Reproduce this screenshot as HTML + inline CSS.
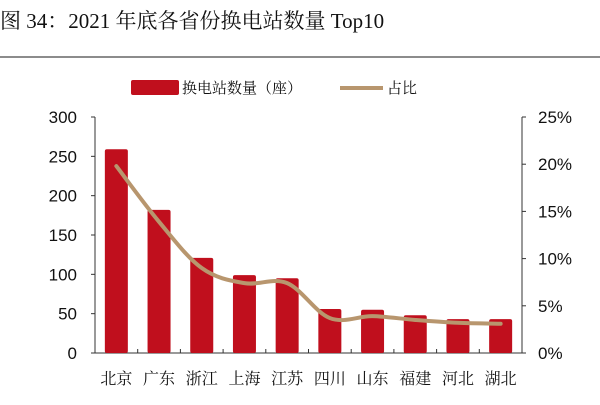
<!DOCTYPE html>
<html><head><meta charset="utf-8"><style>
body{margin:0;background:#fff;width:600px;height:400px;overflow:hidden;font-family:"Liberation Sans","Noto Sans CJK SC",sans-serif}
</style></head><body>
<svg id="c" width="600" height="400">
<text x="0" y="28" font-family="Liberation Serif, Noto Serif CJK SC, serif" font-size="21" fill="#111">图 34：2021 年底各省份换电站数量 Top10</text>
<line x1="0" y1="57" x2="600" y2="57" stroke="#666" stroke-width="1.5"/>
<g>
<rect x="131" y="80" width="48" height="15" rx="2" fill="#c00f1d"/>
<text x="182" y="93" font-size="15" font-family="Noto Serif CJK SC, serif" fill="#111">换电站数量（座）</text>
<line x1="340" y1="88" x2="383" y2="88" stroke="#b8966e" stroke-width="4"/>
<text x="387" y="93" font-size="15" font-family="Noto Serif CJK SC, serif" fill="#111">占比</text>
</g>
<g id="ax"></g><g id="bars"></g><g id="ln"></g>
</svg>
<script>
const categories=["北京","广东","浙江","上海","江苏","四川","山东","福建","河北","湖北"];
const counts=[259,182,121,99,95,56,55,48,43,43];
const shares=[19.8,13.9,9.0,7.4,7.4,3.7,3.9,3.5,3.2,3.1];
const leftTicks=[0,50,100,150,200,250,300];
const rightTicks=[0,5,10,15,20,25];
const NS="http://www.w3.org/2000/svg";
const L=95,R=522,B=353,T=117;
const yL=v=>B-(v/300)*(B-T), yR=v=>B-(v/25)*(B-T);
const bw=(R-L)/categories.length, xC=i=>L+bw*(i+0.5);
function mk(p,tag,a){const e=document.createElementNS(NS,tag);for(const k in a)e.setAttribute(k,a[k]);p.appendChild(e);return e;}
const ax=document.getElementById('ax');
let e=mk(ax,'line',{x1:L,y1:T,x2:L,y2:B,stroke:'#333'});


e=mk(ax,'line',{x1:R,y1:T,x2:R,y2:B,stroke:'#333'});


e=mk(ax,'line',{x1:L,y1:B,x2:R,y2:B,stroke:'#333'});


leftTicks.forEach(v=>{mk(ax,'line',{x1:L-4,y1:yL(v),x2:L,y2:yL(v),stroke:'#333'});
const t=mk(ax,'text',{x:L-18,y:yL(v)+6,'font-size':17,'text-anchor':'end',fill:'#111'});t.textContent=v;

});
rightTicks.forEach(v=>{mk(ax,'line',{x1:R,y1:yR(v),x2:R+4,y2:yR(v),stroke:'#333'});
const t=mk(ax,'text',{x:R+16,y:yR(v)+6,'font-size':17,fill:'#111'});t.textContent=v+'%';

});
for(let i=1;i<categories.length;i++)mk(ax,'line',{x1:L+bw*i,y1:B,x2:L+bw*i,y2:B-4,stroke:'#333'});
const bars=document.getElementById('bars');
counts.forEach((v,i)=>{const r=mk(bars,'rect',{x:xC(i)-11.5,y:yL(v),width:23,height:B-yL(v),rx:2,fill:'#c00f1d'});


const t=mk(bars,'text',{x:xC(i),y:384,'font-size':16,'text-anchor':'middle',fill:'#111','font-family':'Noto Serif CJK SC, serif'});t.textContent=categories[i];

});
const pts=shares.map((v,i)=>[xC(i),yR(v)]);
let d='M'+pts[0][0]+','+pts[0][1];
for(let i=0;i<pts.length-1;i++){const p0=pts[Math.max(0,i-1)],p1=pts[i],p2=pts[i+1],p3=pts[Math.min(pts.length-1,i+2)];const k=0.17;
d+=` C${p1[0]+(p2[0]-p0[0])*k},${p1[1]+(p2[1]-p0[1])*k} ${p2[0]-(p3[0]-p1[0])*k},${p2[1]-(p3[1]-p1[1])*k} ${p2[0]},${p2[1]}`;}
const pl=mk(document.getElementById('ln'),'path',{d:d,fill:'none',stroke:'#b8966e','stroke-width':4,'stroke-linecap':'round'});


</script>
</body></html>
